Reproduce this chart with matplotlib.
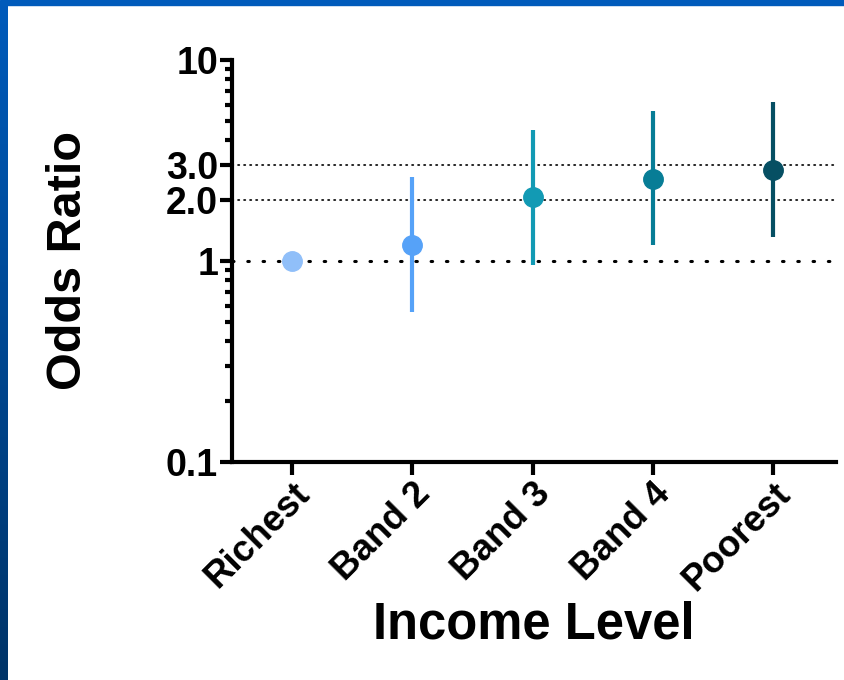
import numpy as np
import matplotlib.pyplot as plt
from matplotlib.colors import LinearSegmentedColormap
from matplotlib.ticker import FixedLocator, FixedFormatter, NullFormatter

plt.rcParams['font.family'] = ['Liberation Sans', 'DejaVu Sans']
plt.rcParams['font.weight'] = 'bold'

# odds ratios with 95% CI by income band
groups = ["Richest", "Band 2", "Band 3", "Band 4", "Poorest"]
odds = [1.0, 1.2, 2.09, 2.57, 2.82]
ci_low = [1.0, 0.555, 0.955, 1.2, 1.32]
ci_high = [1.0, 2.63, 4.5, 5.55, 6.15]
colors = ["#90bff9", "#56a2f8", "#129ab4", "#077d96", "#064f63"]

y_major = [0.1, 1, 2, 3, 10]
y_major_labels = ["0.1", "1", "2.0", "3.0", "10"]
y_minor = [0.2, 0.3, 0.4, 0.5, 0.6, 0.7, 0.8, 0.9, 4, 5, 6, 7, 8, 9]

fig = plt.figure(figsize=(8.44, 6.80), dpi=100)

# blue frame along the top and left edge
fig.patches.append(plt.Rectangle((0, 1 - 5 / 680), 1, 5 / 680,
                                 transform=fig.transFigure,
                                 color="#005bbb", zorder=0))
edge = fig.add_axes([0, 0, 8 / 844, 1 - 5 / 680])
grad = np.linspace(0, 1, 256).reshape(-1, 1)
edge_cmap = LinearSegmentedColormap.from_list("edge", ["#005bbb", "#003468"])
edge.imshow(grad, aspect="auto", cmap=edge_cmap)
edge.set_axis_off()

ax = fig.add_axes([232 / 844, 1 - 462 / 680, (836 - 232) / 844, 402 / 680])

x = np.arange(len(groups))
for i in range(len(groups)):
    ax.plot([x[i], x[i]], [ci_low[i], ci_high[i]], color=colors[i], lw=3,
            solid_capstyle="butt", zorder=3)
    ax.plot(x[i], odds[i], "o", color=colors[i], ms=14, mec=colors[i],
            zorder=4)

ax.axhline(1, color="black", lw=2.2, ls=(0, (0.5, 4.5)),
           dash_capstyle="round", zorder=2)
for ref in [2, 3]:
    ax.axhline(ref, color="black", lw=1.2, ls=(0, (0.8, 2.8)),
               dash_capstyle="round", zorder=2)

ax.set_yscale("log")
ax.set_ylim(0.1, 10)
ax.set_xlim(-0.5, 4.52)
ax.yaxis.set_major_locator(FixedLocator(y_major))
ax.yaxis.set_major_formatter(FixedFormatter(y_major_labels))
ax.yaxis.set_minor_locator(FixedLocator(y_minor))
ax.yaxis.set_minor_formatter(NullFormatter())

ax.set_xticks(x)
ax.set_xticklabels(groups, rotation=45, ha="right", rotation_mode="anchor",
                   fontsize=26.5, fontweight="bold")
for lab in ax.get_yticklabels():
    lab.set_fontsize(27)
    lab.set_fontweight("bold")

ax.tick_params(axis="both", which="major", width=3, length=9, color="black")
ax.tick_params(axis="y", which="major", pad=1)
ax.tick_params(axis="x", which="major", pad=1)
ax.tick_params(axis="y", which="minor", width=3, length=5)

for side in ["top", "right"]:
    ax.spines[side].set_visible(False)
for side in ["left", "bottom"]:
    ax.spines[side].set_linewidth(3)

ax.set_ylabel("Odds Ratio", fontsize=35, fontweight="bold", labelpad=54)
ax.set_xlabel("Income Level", fontsize=36.5, fontweight="bold", labelpad=2)

fig.savefig("out.png", dpi=100, facecolor="white")
